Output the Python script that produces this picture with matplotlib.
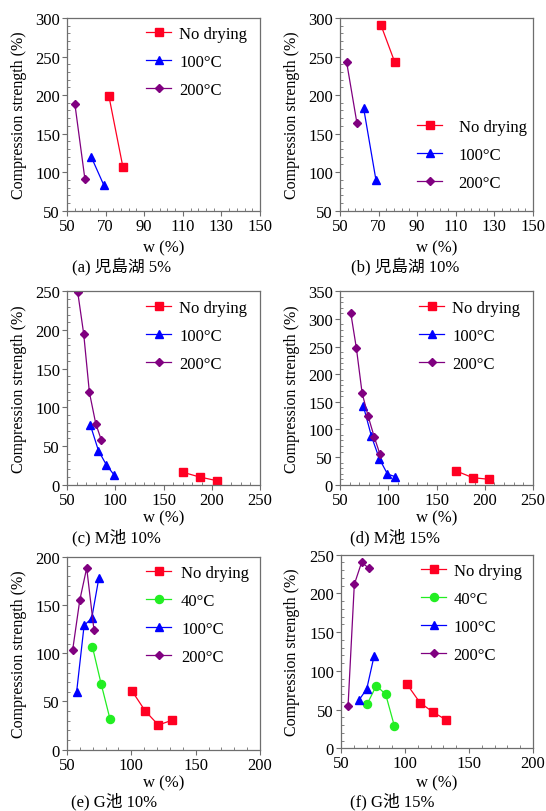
import matplotlib
matplotlib.use("Agg")
import matplotlib.pyplot as plt
from matplotlib.ticker import MultipleLocator, AutoMinorLocator

plt.rcParams['font.family'] = ['Liberation Serif', 'Noto Sans CJK JP']
plt.rcParams['mathtext.fontset'] = 'stix'

# ---------------- data ----------------
# (a) 児島湖 5%
a_nd_x = [71.7, 79.0]
a_nd_y = [198.8, 106.2]
a_100_x = [62.6, 69.1]
a_100_y = [119.6, 83.0]
a_200_x = [54.1, 59.3]
a_200_y = [188.0, 90.6]

# (b) 児島湖 10%
b_nd_x = [71.2, 78.4]
b_nd_y = [290.9, 242.5]
b_100_x = [62.2, 68.6]
b_100_y = [183.7, 90.2]
b_200_x = [53.4, 58.8]
b_200_y = [243.3, 163.3]

# (c) M池 10%
c_nd_x = [170.6, 187.6, 205.3]
c_nd_y = [15.9, 9.9, 5.2]
c_100_x = [74.3, 82.6, 90.9, 99.2]
c_100_y = [76.7, 44.0, 25.4, 12.0]
c_200_x = [61.1, 67.3, 73.2, 79.8, 85.7]
c_200_y = [249.0, 195.0, 119.4, 78.9, 57.3]

# (d) M池 15%
d_nd_x = [170.6, 187.6, 204.9]
d_nd_y = [24.7, 12.7, 9.7]
d_100_x = [74.3, 82.6, 90.9, 99.2, 107.2]
d_100_y = [141.8, 87.5, 46.5, 19.3, 14.5]
d_200_x = [61.1, 67.0, 72.9, 79.1, 85.4, 91.2]
d_200_y = [311.4, 246.8, 166.0, 124.3, 86.9, 56.1]

# (e) G池 10%
e_nd_x = [100.4, 110.8, 121.0, 131.4]
e_nd_y = [61.1, 40.1, 25.6, 30.4]
e_40_x = [69.8, 76.5, 83.5]
e_40_y = [106.4, 68.4, 31.4]
e_100_x = [57.5, 63.3, 69.2, 74.7]
e_100_y = [60.1, 128.8, 136.1, 177.5]
e_200_x = [54.4, 59.9, 65.3, 71.0]
e_200_y = [103.3, 154.7, 188.3, 123.7]

# (f) G池 15%
f_nd_x = [101.6, 111.7, 122.1, 132.3]
f_nd_y = [82.6, 58.9, 46.5, 36.6]
f_40_x = [70.6, 77.6, 84.9, 91.7]
f_40_y = [57.7, 80.9, 69.7, 28.8]
f_100_x = [64.1, 70.1, 75.8]
f_100_y = [62.4, 76.6, 118.8]
f_200_x = [55.5, 60.4, 66.1, 71.9]
f_200_y = [54.2, 211.7, 240.1, 232.4]

captions = ['(a) 児島湖 5%', '(b) 児島湖 10%', '(c) M池 10%',
            '(d) M池 15%', '(e) G池 10%', '(f) G池 15%']
labels = {'nd': 'No drying', '40': '40°C', '100': '100°C', '200': '200°C'}

styles = {
    'nd': dict(color='#ff0022', marker='s', ms=5.4),
    '40': dict(color='#22ee22', marker='o', ms=5.8),
    '100': dict(color='#0000ff', marker='^', ms=5.8),
    '200': dict(color='#800080', marker='D', ms=4.0),
}

panels = [
    dict(series=[('nd', a_nd_x, a_nd_y), ('100', a_100_x, a_100_y), ('200', a_200_x, a_200_y)],
         xlim=(50, 150), xmaj=20, ylim=(50, 300), ymaj=50),
    dict(series=[('nd', b_nd_x, b_nd_y), ('100', b_100_x, b_100_y), ('200', b_200_x, b_200_y)],
         xlim=(50, 150), xmaj=20, ylim=(50, 300), ymaj=50),
    dict(series=[('nd', c_nd_x, c_nd_y), ('100', c_100_x, c_100_y), ('200', c_200_x, c_200_y)],
         xlim=(50, 250), xmaj=50, ylim=(0, 250), ymaj=50),
    dict(series=[('nd', d_nd_x, d_nd_y), ('100', d_100_x, d_100_y), ('200', d_200_x, d_200_y)],
         xlim=(50, 250), xmaj=50, ylim=(0, 350), ymaj=50),
    dict(series=[('nd', e_nd_x, e_nd_y), ('40', e_40_x, e_40_y), ('100', e_100_x, e_100_y), ('200', e_200_x, e_200_y)],
         xlim=(50, 200), xmaj=50, ylim=(0, 200), ymaj=50),
    dict(series=[('nd', f_nd_x, f_nd_y), ('40', f_40_x, f_40_y), ('100', f_100_x, f_100_y), ('200', f_200_x, f_200_y)],
         xlim=(50, 200), xmaj=50, ylim=(0, 250), ymaj=50),
]

W, H = 546, 812
fig = plt.figure(figsize=(W / 100, H / 100), dpi=100)

# axes boxes in pixels: (left, top, right, bottom)
boxes = [
    (67, 19, 260, 211.7), (340, 19, 533, 211.7),
    (67, 292.3, 260, 485.7), (340, 292.3, 533, 485.7),
    (67, 557.7, 260, 750.7), (341, 555.7, 533, 749.3),
]
legend_pos = [(146, 27), (417, 120), (146, 301), (419, 301), (146, 566), (421, 564)]
legend_pad = [0.5, 1.0, 0.5, 0.5, 0.6, 0.45]
caption_pos = [(72, 267), (351, 267), (72, 538), (350, 538), (71, 802), (350, 802)]
xlabel_y = [248, 248, 518, 518, 783, 783]
ylabel_x = [27, 300, 27, 300, 27, 300]

spine_col = '#6e6e6e'
for i, (p, box) in enumerate(zip(panels, boxes)):
    l, t, r, b = box
    ax = fig.add_axes([l / W, 1 - b / H, (r - l) / W, (b - t) / H])
    for key, xs, ys in p['series']:
        st = styles[key]
        ax.plot(xs, ys, color=st['color'], lw=0.9, marker=st['marker'], ms=st['ms'],
                mfc=st['color'], mec=st['color'], label=labels[key])
    ax.set_xlim(*p['xlim'])
    ax.set_ylim(*p['ylim'])
    ax.xaxis.set_major_locator(MultipleLocator(p['xmaj'], offset=p['xlim'][0] % p['xmaj']))
    ax.yaxis.set_major_locator(MultipleLocator(p['ymaj']))
    ax.xaxis.set_minor_locator(AutoMinorLocator(5))
    ax.yaxis.set_minor_locator(AutoMinorLocator(5))
    ax.tick_params(which='major', direction='out', length=3.5, width=0.8, color=spine_col,
                   labelsize=12, pad=1.5)
    ax.tick_params(which='minor', direction='in', length=2, width=0.6, color=spine_col)
    for s in ax.spines.values():
        s.set_color(spine_col)
        s.set_linewidth(0.9)
    ax.set_ylabel('Compression strength (%)', fontsize=11.5)
    ax.yaxis.set_label_coords((ylabel_x[i] - l) / (r - l), 0.5)
    ax.set_xlabel('w (%)', fontsize=12)
    ax.xaxis.set_label_coords(0.5, -(xlabel_y[i] - 8 - b) / (b - t))
    lx, ly = legend_pos[i]
    ax.legend(loc='upper left', bbox_to_anchor=(lx / W, 1 - ly / H), bbox_transform=fig.transFigure,
              frameon=False, fontsize=12, handlelength=1.5, handletextpad=legend_pad[i],
              labelspacing=0.72, borderpad=0, borderaxespad=0)
    cx, cy = caption_pos[i]
    fig.text(cx / W, 1 - cy / H, captions[i], fontsize=12, ha='left', va='center')

fig.savefig('out.png', dpi=100)
